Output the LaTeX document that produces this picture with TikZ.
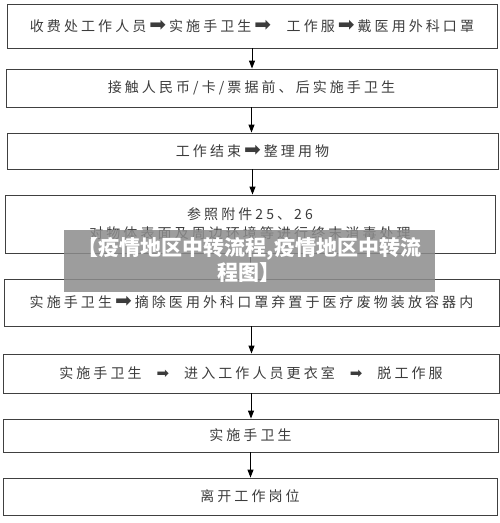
\documentclass[tikz,border=0pt]{standalone}
\usepackage{fontspec}
\setmainfont{Noto Sans CJK SC}[LetterSpace=22]
\newfontfamily\sym{DejaVu Sans}
\newfontfamily\markfont{Noto Sans CJK SC}
\usetikzlibrary{arrows.meta}
\definecolor{textgray}{HTML}{3C3C3C}
\definecolor{linegray}{HTML}{404040}
\newcommand{\ra}{\hspace{3pt}{\sym\fontsize{20}{20}\selectfont ➡}\hspace{3pt}}
\newcommand{\rb}{\hspace{15pt}{\sym\fontsize{15}{15}\selectfont ➡}\hspace{15pt}}
\tikzset{
  box/.style={draw=linegray, line width=0.9pt, text=textgray, inner sep=0pt,
    font=\fontsize{14}{19}\selectfont, align=center},
  flow/.style={-{Triangle[width=6pt,length=8pt]}, line width=0.9pt, black}
}
\begin{document}
\begin{tikzpicture}[x=1pt,y=-1pt]
				\useasboundingbox (0,0) rectangle (500,523);
				% boxes
				\node[box, minimum width=490pt, minimum height=44pt] (b1) at (252,26)
				{收费处工作人员\ra 实施手卫生\ra\ \ 工作服\ra 戴医用外科口罩};
				\node[box, minimum width=491pt, minimum height=38pt] (b2) at (251.5,88)
				{接触人民币/卡/票据前、后实施手卫生};
				\node[box, minimum width=491pt, minimum height=36pt] (b3) at (252.5,151)
				{工作结束\ra 整理用物};
				\node[box, minimum width=490pt, minimum height=58pt] (b4) at (250,224)
				{参照附件25、26\\对物体表面及周边环境等进行终末消毒处理};
				\node[box, minimum width=495pt, minimum height=47pt] (b5) at (251.5,302.5)
				{实施手卫生\ra 摘除医用外科口罩弃置于医疗废物装放容器内};
				\node[box, minimum width=496pt, minimum height=39pt] (b6) at (251,373.5)
				{实施手卫生\rb 进入工作人员更衣室\rb 脱工作服};
				\node[box, minimum width=495pt, minimum height=33pt] (b7) at (250.5,435.5)
				{实施手卫生};
				\node[box, minimum width=494pt, minimum height=37pt] (b8) at (250,496.5)
				{离开工作岗位};
				% arrows
				\foreach \a/\b in {b1/b2, b2/b3, b3/b4, b4/b5, b5/b6, b6/b7, b7/b8}
				\draw[flow] (\a.south) -- (\a.south |- \b.north);
				% caption band
				\fill[gray!90, opacity=0.85] (64,230) rectangle (435,292);
				\node[text=white, font=\markfont\bfseries\fontsize{21}{25}\selectfont, align=center,
				inner sep=0pt] (mark) at (249.5,260)
				{【疫情地区中转流程,疫情地区中转流\\程图】};
			\end{tikzpicture}
\end{document}
